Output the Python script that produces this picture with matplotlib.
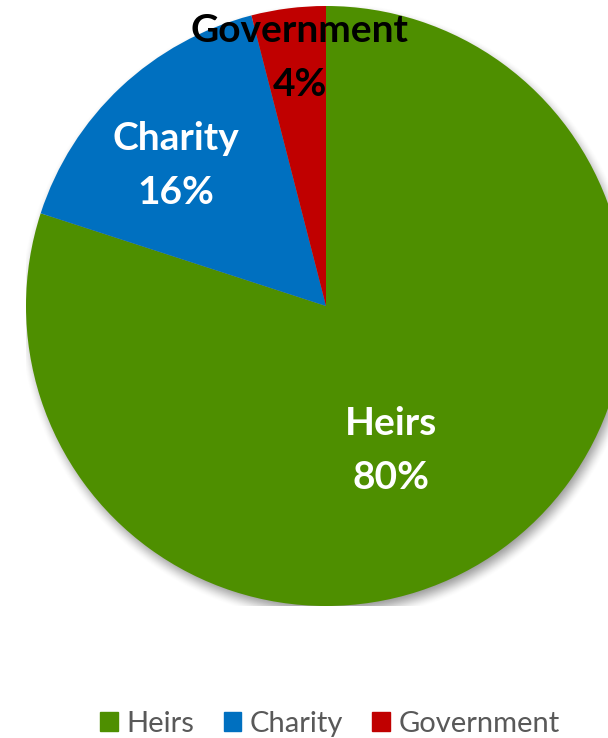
import numpy as np
import matplotlib.pyplot as plt

# Estate split
categories = ["Heirs", "Charity", "Government"]
shares = [80, 16, 4]
colors = ["#4E8F00", "#0070C0", "#C00000"]

fig = plt.figure(figsize=(6.08, 7.38), dpi=100)
W, H = 608, 738
cx, cy, r = 326, 306, 300
ax = fig.add_axes([(cx - r) / W, (H - cy - r) / H, 2 * r / W, 2 * r / H])
ax.axis("off")

# soft drop shadow under the pie
g = np.linspace(-1.1, 1.1, 700)
xx, yy = np.meshgrid(g, g)
d = np.hypot(xx - 0.010, yy + 0.020)
w = 0.035
t = np.clip((1 + w - d) / (2 * w), 0, 1)
t = t * t * (3 - 2 * t)
shadow = np.zeros(xx.shape + (4,))
shadow[..., :3] = 0.25
shadow[..., 3] = 0.55 * t
ax.imshow(shadow, extent=(-1.1, 1.1, -1.1, 1.1), origin="lower", zorder=0,
          interpolation="bilinear")

wedges, _ = ax.pie(shares, colors=colors, startangle=90, counterclock=False,
                   radius=1, wedgeprops=dict(linewidth=0), normalize=True)
for wdg in wedges:
    wdg.set_zorder(1)
    wdg.set_clip_on(False)
ax.set_xlim(-1, 1)
ax.set_ylim(-1, 1)
ax.set_aspect("equal")

font = ["Lato", "DejaVu Sans"]
label_pos = {"Heirs": (0.217, -0.483), "Charity": (-0.5, 0.467), "Government": (-0.087, 0.827)}
label_col = {"Heirs": "white", "Charity": "white", "Government": "black"}
for name, val in zip(categories, shares):
    x, y = label_pos[name]
    ax.text(x, y, f"{name}\n{val}%", ha="center", va="center", fontsize=28,
            fontweight="bold", color=label_col[name], family=font,
            linespacing=1.65, zorder=3, clip_on=False)

handles = [plt.Rectangle((0, 0), 1, 1, color=c) for c in colors]
fig.legend(handles, categories, loc="center", bbox_to_anchor=(0.543, 1 - 724 / H),
           ncol=3, frameon=False, prop={"family": font, "size": 21},
           labelcolor="#595959", handlelength=0.6, handleheight=0.6,
           handletextpad=0.3, columnspacing=1.0)

fig.savefig("out.png", dpi=100)
